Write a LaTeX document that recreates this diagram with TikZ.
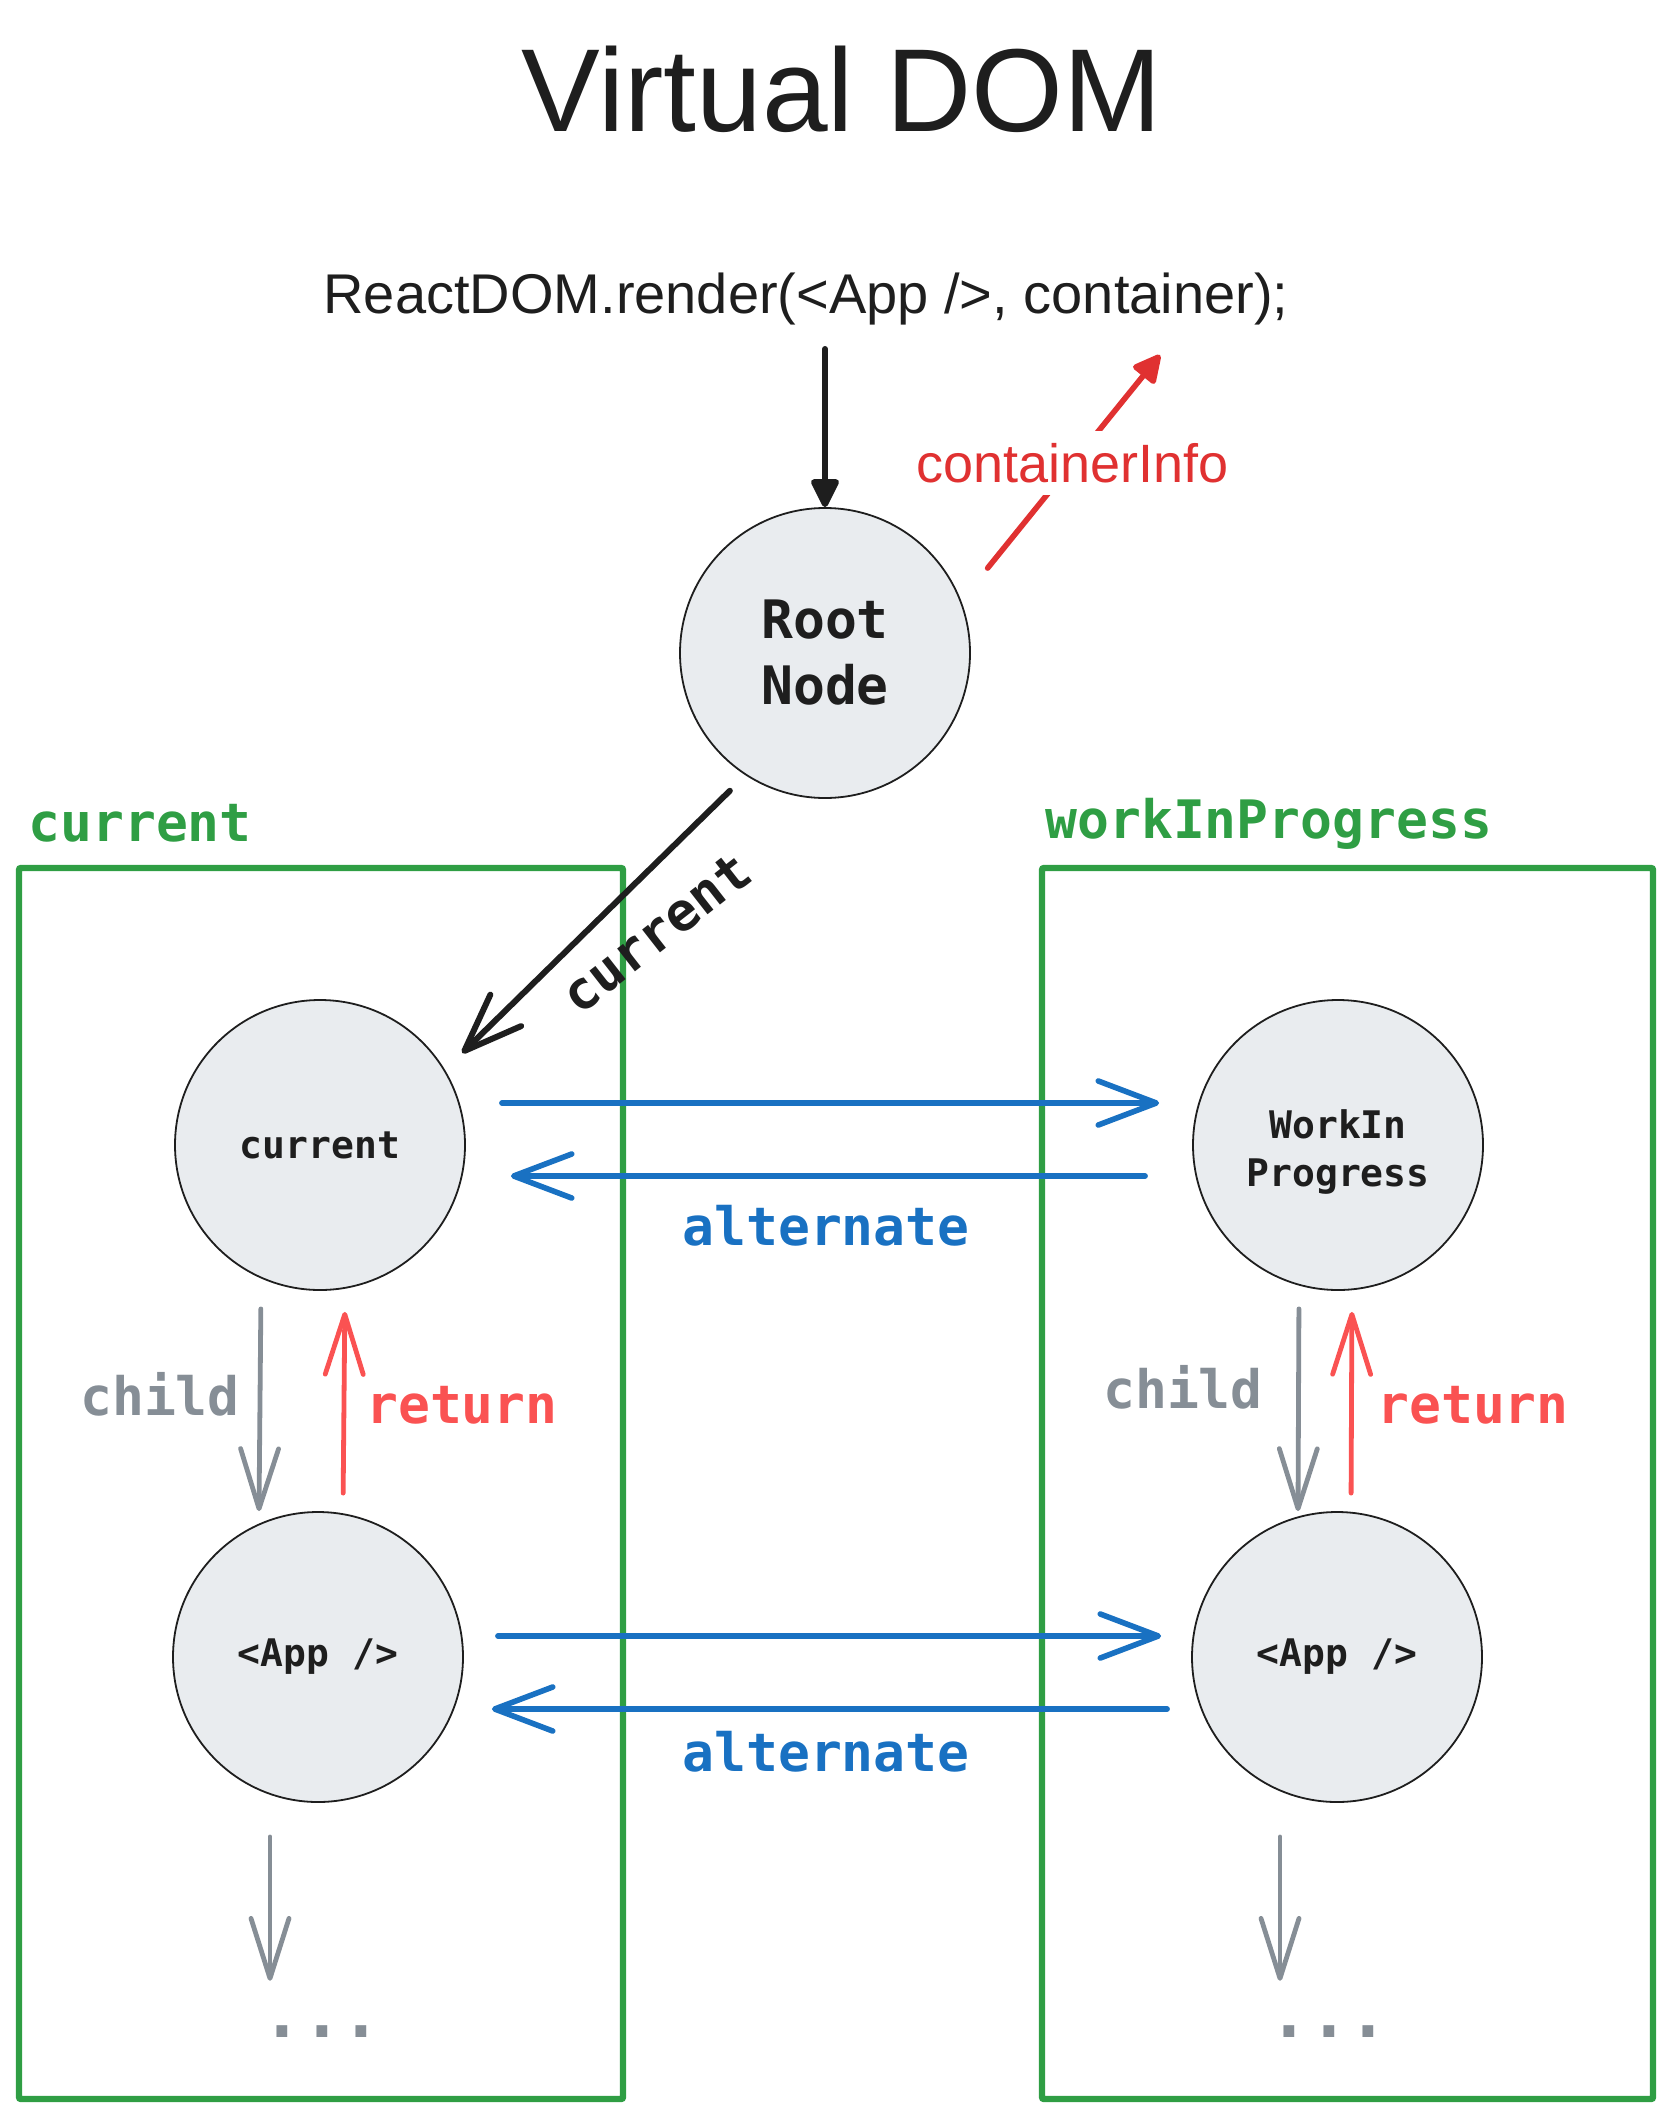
\documentclass[tikz,border=0pt]{standalone}
\usepackage{fontspec}
\setmainfont{Liberation Sans}
\setmonofont{DejaVu Sans Mono}
\usepackage{tikz}
\usetikzlibrary{%
  arrows.meta,
  calc
}
\definecolor{ink}{HTML}{1E1E1E}
\definecolor{frameGreen}{HTML}{2F9E44}
\definecolor{altBlue}{HTML}{1971C2}
\definecolor{kidGray}{HTML}{868E96}
\definecolor{retRed}{HTML}{FA5252}
\definecolor{infoRed}{HTML}{E03131}
\definecolor{fiberFill}{HTML}{E9ECEF}
\tikzset{>=stealth}

\begin{document}
\begin{tikzpicture}[x=0.5pt,y=-0.5pt]
      \tikzset{fiber/.style={circle,draw=ink,line width=0.9pt,fill=fiberFill,minimum size=145pt,inner sep=0pt,align=center,text=ink,font=\ttfamily\bfseries\fontsize{19}{24}\selectfont}}
      \tikzset{frame/.style={draw=frameGreen,line width=3.2pt,rounded corners=1pt}}
      \tikzset{mono/.style={font=\ttfamily\bfseries\fontsize{26.5}{33}\selectfont,inner sep=0pt,text=#1}}
      \tikzset{alt/.style={draw=altBlue,line width=2.8pt,line cap=round,-{Straight Barb[length=29pt,width=22pt,round]}}}
      \tikzset{kid/.style={draw=kidGray,line width=2.4pt,line cap=round,-{Straight Barb[length=30pt,width=19pt,round]}}}
      \tikzset{ret/.style={draw=retRed,line width=2.4pt,line cap=round,-{Straight Barb[length=30pt,width=19pt,round]}}}
      \tikzset{push/.style={draw=ink,line width=3pt,line cap=round,-{Triangle[length=16pt,width=15pt,round]}}}
      \tikzset{info/.style={draw=infoRed,line width=2.8pt,line cap=round,-{Triangle[length=15.5pt,width=15pt,round]}}}

      \useasboundingbox (0,0) rectangle (1672,2119);

      % title and call
      \node[anchor=base,inner sep=0pt,text=ink,font=\fontsize{59}{70}\selectfont] (title) at (842,132) {Virtual DOM};
      \node[anchor=base,inner sep=0pt,text=ink,font=\fontsize{28}{34}\selectfont] (call) at (806,314) {ReactDOM.render(<App />, container);};

      % the two trees
      \draw[frame] (19,868) rectangle (623,2099);
      \draw[frame] (1042,868) rectangle (1653,2099);
      \node[mono=frameGreen,anchor=base west] (curTag) at (28,841) {current};
      \node[mono=frameGreen,anchor=base west] (wipTag) at (1045,838) {workInProgress};

      \node[fiber,font=\ttfamily\bfseries\fontsize{26.5}{33}\selectfont] (root) at (825,653) {Root\\Node};
      \node[fiber] (cur) at (320,1145) {current};
      \node[fiber] (wip) at (1338,1145) {\rule{0pt}{21pt}WorkIn\\Progress};
      \node[fiber] (appL) at (318,1657) {<App />};
      \node[fiber] (appR) at (1337,1657) {<App />};

      % root links
      \draw[push,shorten <=11.5pt] (call.south -| root.north) -- (root.north);
      \coordinate (dom) at (1160,355);
      \draw[info,shorten <=21pt] (root.21) -- (dom)
        node[pos=.56,fill=white,inner sep=6pt,text=infoRed,font=\fontsize{27}{32}\selectfont] (infoTag) {containerInfo};
      \draw[push,-{Straight Barb[length=29pt,width=22pt,round]},shorten <=11pt,shorten >=12pt] (root.237) -- (cur.31);
      \node[mono=ink,rotate=38] (rootTag) at (656,933) {current};

      % alternate
      \draw[alt,shorten <=18pt,shorten >=16.5pt] ([yshift=21pt]cur.east) -- ([yshift=21pt]wip.west);
      \draw[alt,shorten <=23.5pt,shorten >=22.5pt] ([yshift=-15.5pt]wip.west) -- ([yshift=-15.5pt]cur.east);
      \node[mono=altBlue,anchor=base] (altTop) at (826,1245) {alternate};
      \draw[alt,shorten <=17pt,shorten >=15pt] ([yshift=10.5pt]appL.east) -- ([yshift=10.5pt]appR.west);
      \draw[alt,shorten <=12pt,shorten >=14pt] ([yshift=-26pt]appR.west) -- ([yshift=-26pt]appL.east);
      \node[mono=altBlue,anchor=base] (altLow) at (826,1771) {alternate};

      % child / return
      \draw[kid,shorten <=9pt] ([xshift=-29.5pt]cur.south) -- ([xshift=-29.5pt]appL.north);
      \draw[ret,shorten <=9pt,shorten >=10.5pt] ([xshift=12.5pt]appL.north) -- ([xshift=12.5pt]cur.south);
      \node[mono=kidGray,anchor=base] (kidL) at (160,1415) {child};
      \node[mono=retRed,anchor=base] (retL) at (462,1423) {return};
      \draw[kid,shorten <=9pt] ([xshift=-19.5pt]wip.south) -- ([xshift=-19.5pt]appR.north);
      \draw[ret,shorten <=9pt,shorten >=10.5pt] ([xshift=7pt]appR.north) -- ([xshift=7pt]wip.south);
      \node[mono=kidGray,anchor=base] (kidR) at (1183,1408) {child};
      \node[mono=retRed,anchor=base] (retR) at (1473,1423) {return};

      % and so on
      \node[mono=kidGray,anchor=base,font=\ttfamily\bfseries\fontsize{33}{38}\selectfont] (moreL) at (322,2037) {...};
      \node[mono=kidGray,anchor=base,font=\ttfamily\bfseries\fontsize{33}{38}\selectfont] (moreR) at (1329,2037) {...};
      \draw[kid,shorten <=17pt,shorten >=22pt] ([xshift=-24pt]appL.south) -- ([xshift=-24pt]appL.south |- moreL.north);
      \draw[kid,shorten <=17pt,shorten >=22pt] ([xshift=-28.5pt]appR.south) -- ([xshift=-28.5pt]appR.south |- moreR.north);
\end{tikzpicture}
\end{document}
